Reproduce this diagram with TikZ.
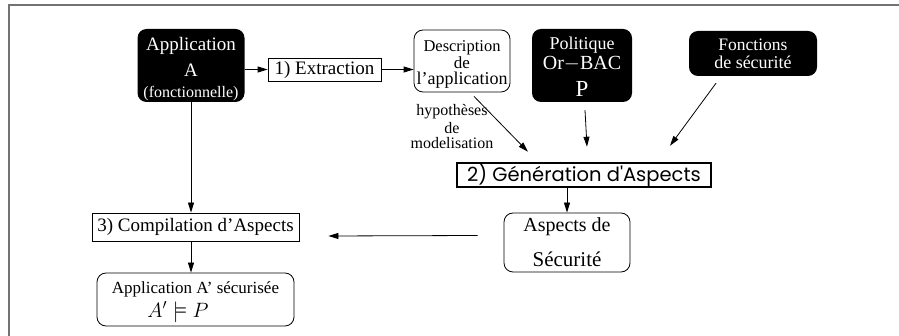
\documentclass[tikz,border=0pt]{standalone}
\usepackage{amsmath}
\usepackage{amssymb}
\usepackage{fontspec}
\setmainfont{Liberation Serif}
\newfontfamily\gensans{Poppins}
\usepackage{tikz}
\usetikzlibrary{arrows.meta}
\usetikzlibrary{positioning}
\def\fsz#1{\fontsize{#1}{#1}\selectfont}
\DeclareRobustCommand\setlines[1]{\lineskiplimit=-100pt\relax\fontsize{18}{#1}\selectfont}

\begin{document}
\begin{tikzpicture}[x=1pt, y=-1pt,
  blackbox/.style={rounded corners=9pt, fill=black, text=white, align=center, inner sep=0pt},
  whitebox/.style={rounded corners=9pt, draw, line width=0.8pt, align=center, inner sep=0pt},
  stepbox/.style={draw, line width=0.8pt, inner sep=0pt},
  lines/.style={font=\setlines{#1}},
  flow/.style={line width=0.8pt, -{Triangle[length=10pt, width=6pt]}}]
  \useasboundingbox (0, 0) rectangle (899, 336);

  % frame
  \draw [gray!90!black, line width=1.5pt] (9, 336) -- (9, 5) -- (899, 5);

  % inputs
  \node [blackbox, lines=26, minimum width=107, minimum height=73] (appa) at (191, 65.5)
    {\rule{0pt}{21pt}\fsz{19}Application\\ \fsz{19}A\\[-5pt] \fsz{16}(fonctionnelle)};
  \node [stepbox, minimum width=113, minimum height=23] (extr) at (324.5, 69.5)
    {\fsz{19}1) Extraction};
  \node [whitebox, lines=16.5, minimum width=96, minimum height=62] (desc) at (462, 61)
    {\rule{0pt}{18pt}\fsz{16.5}Description\\ \fsz{17}de\\ \fsz{18}l'application};
  \node [blackbox, lines=20, minimum width=100, minimum height=73] (pol) at (582, 65.5)
    {\rule{0pt}{16pt}\fsz{18}Politique\\ \fsz{20}Or$-$BAC\\[7pt] \fsz{23}P};
  \node [blackbox, lines=18, minimum width=128, minimum height=45] (fonc) at (753, 53.5)
    {\fsz{17.5}Fonctions\\ \fsz{18}de sécurité};
  \node [align=center, inner sep=0pt, lines=18] (hyp) at (452, 127)
    {\fsz{16}hypothèses\\ \fsz{16}de\\[-3pt] \fsz{16}modelisation};

  % steps
  \node [stepbox, line width=2.5pt, minimum width=254, minimum height=24] (gen) at (584, 175)
    {\gensans\fsz{19.5}2) Génération d'Aspects};
  \node [whitebox, lines=35, minimum width=126, minimum height=59] (asp) at (567, 242.5)
    {\fsz{20}Aspects de\\ \fsz{21}Sécurité};
  \node [stepbox, minimum width=207, minimum height=28] (comp) at (195.5, 227)
    {\fsz{19}3) Compilation d'Aspects};
  \node [whitebox, lines=24, minimum width=197, minimum height=53] (appb) at (195.5, 299.5)
    {\rule{0pt}{17pt}\fsz{17}Application A' sécurisée\\ \fsz{21}\hspace*{-35pt}$A' \models P$};

  % connectors
  \draw [flow] (appa.east |- extr) -- (extr.west);
  \draw [flow] (extr.east) -- (extr.east -| desc.west);
  \draw [flow] ([shift={(12, 4)}]desc.south) -- ([shift={(-56, -10)}]gen.north);
  \draw [flow] ([shift={(3, 8)}]pol.south) -- ([shift={(3, -15)}]gen.north);
  \draw [flow] ([shift={(-37, 7)}]fonc.south) -- ([shift={(86, -16)}]gen.north);
  \draw [flow] (asp.north |- gen.south) -- (asp.north);
  \draw [flow] ([shift={(-26, -7)}]asp.west) -- ([shift={(29, 9)}]comp.east);
  \draw [flow] (appa.south) -- (appa.south |- comp.north);
  \draw [flow] (appa.south |- comp.south) -- (appa.south |- appb.north);
\end{tikzpicture}
\end{document}
